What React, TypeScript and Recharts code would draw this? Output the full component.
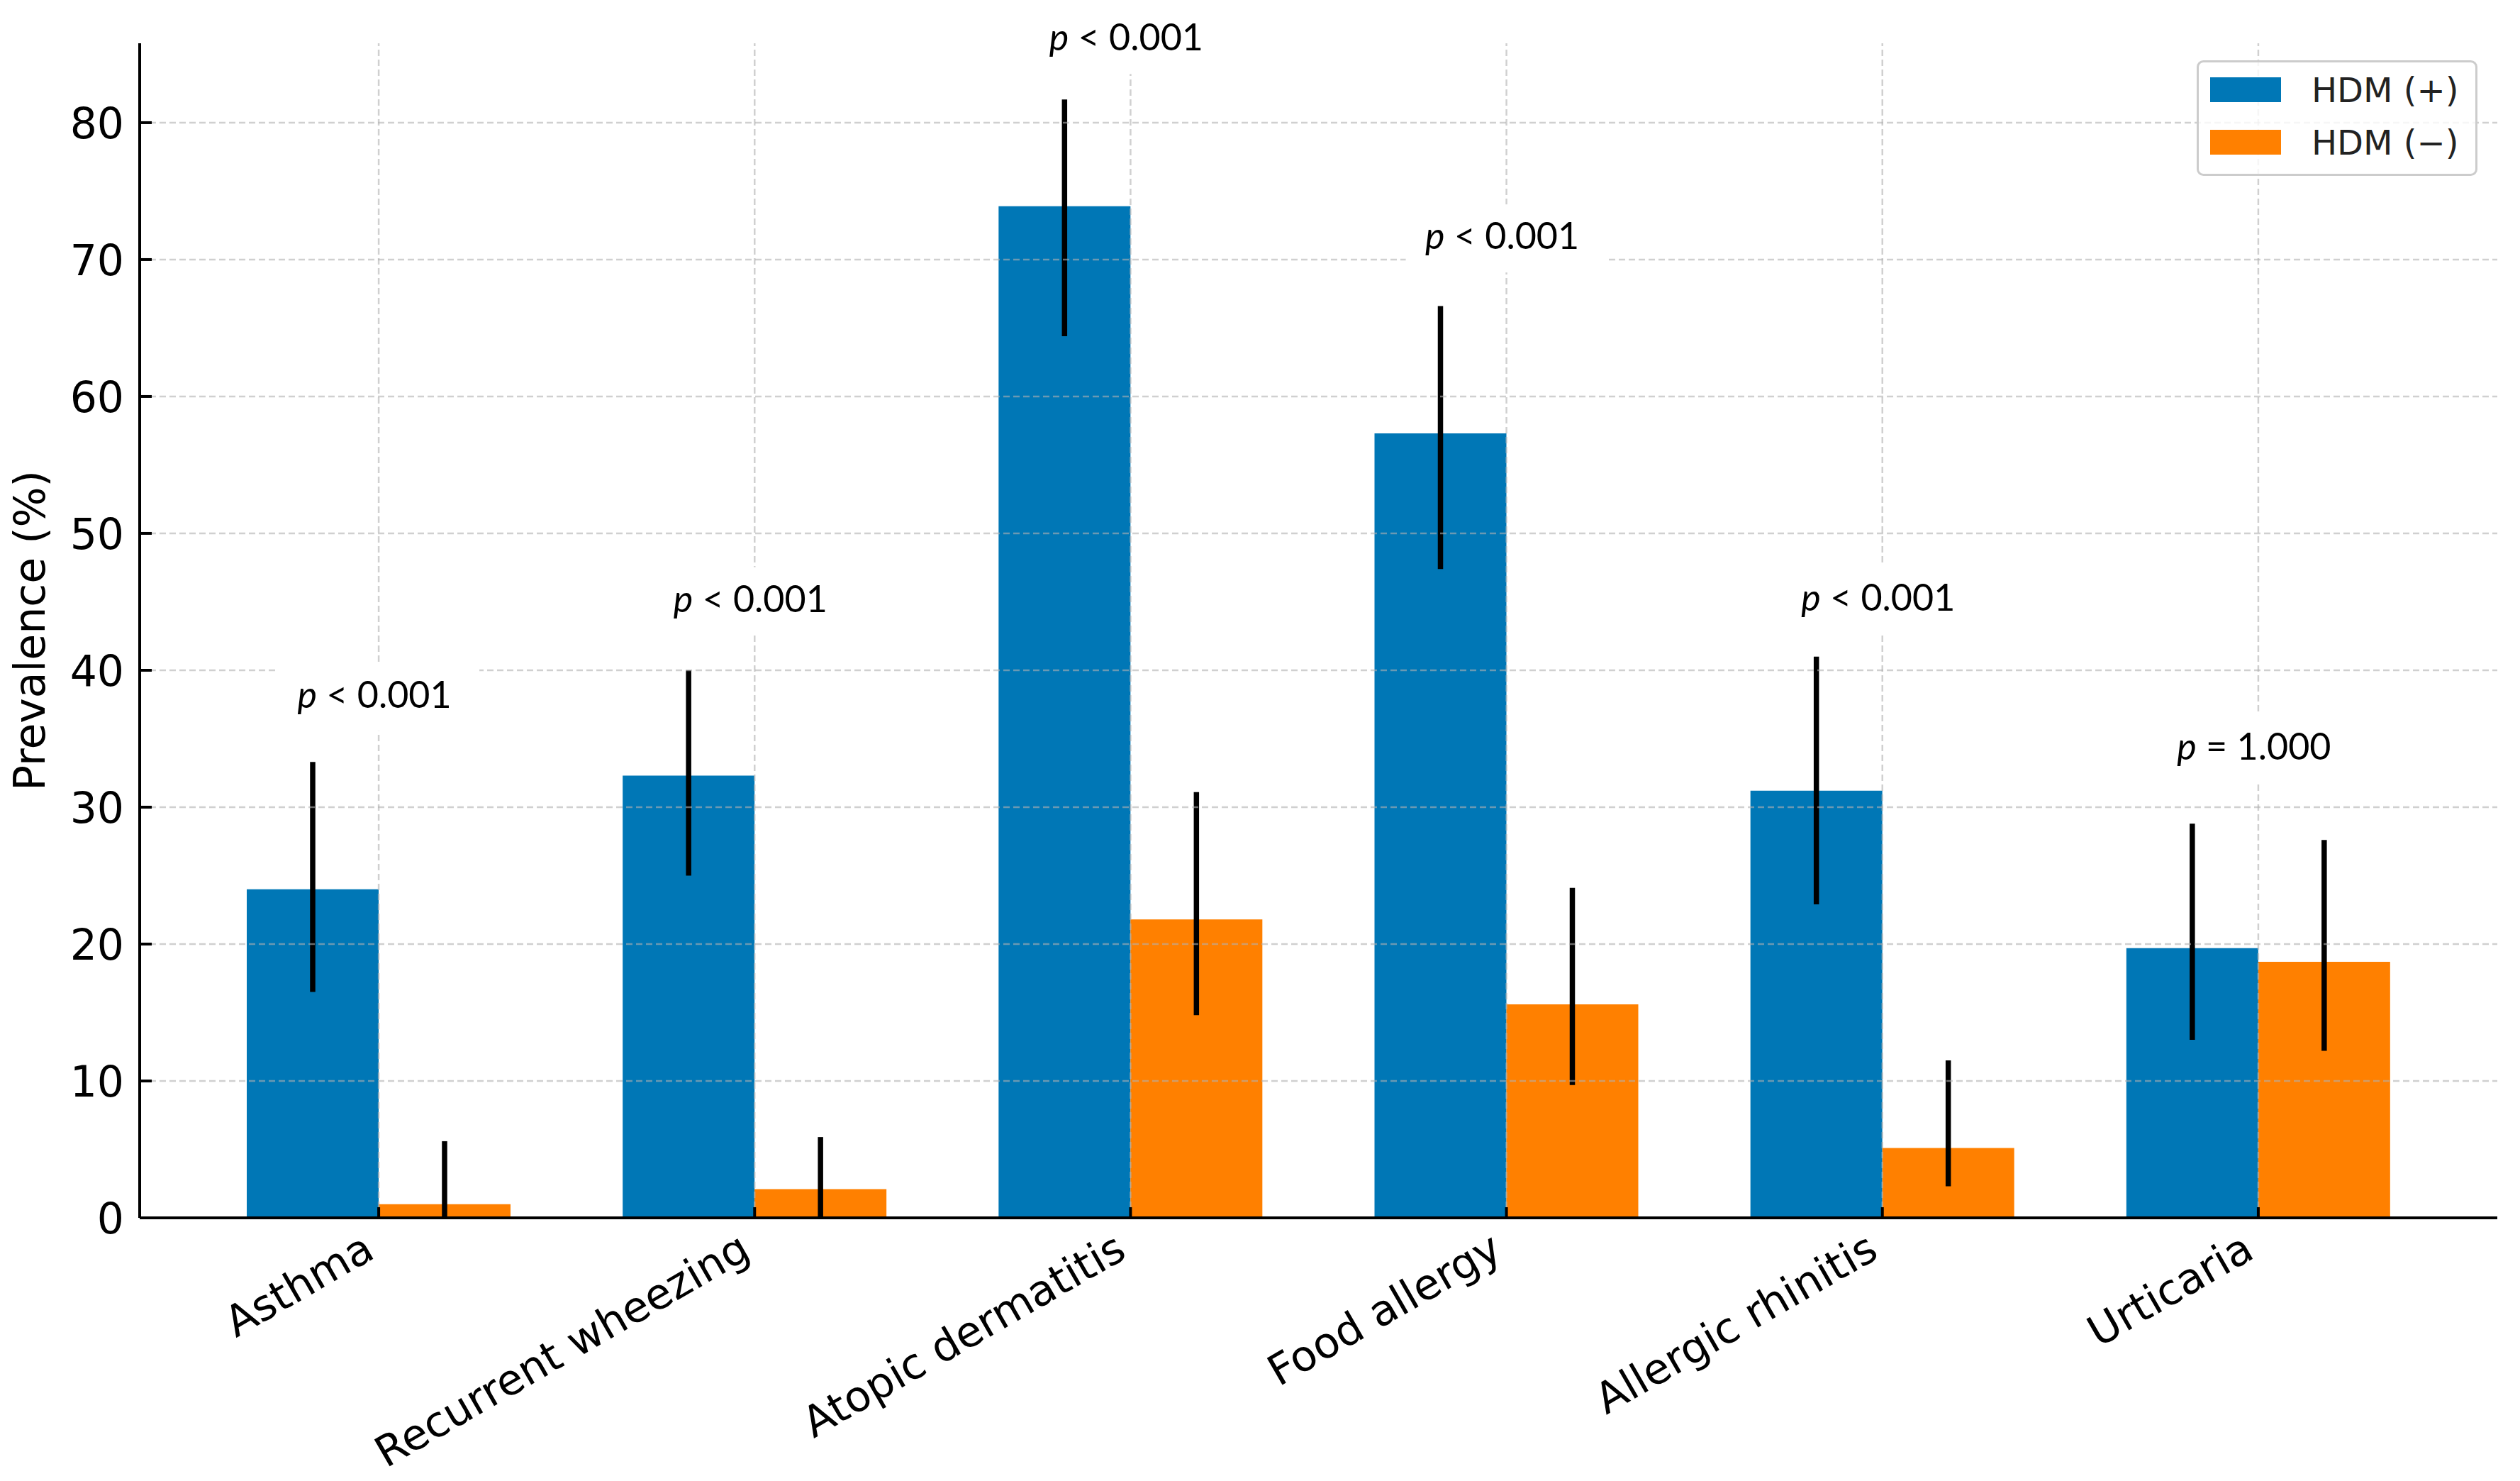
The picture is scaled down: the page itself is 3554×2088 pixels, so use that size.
import React from 'react';
import {
    ComposedChart,
    Bar,
    ErrorBar,
    XAxis,
    YAxis,
    Legend,
    ReferenceLine,
    ReferenceDot,
} from 'recharts';

// values (prevalence, %)
const categories = ['Asthma', 'Recurrent wheezing', 'Atopic dermatitis', 'Food allergy', 'Allergic rhinitis', 'Urticaria'];
const hdmPositive = [24.0, 32.3, 73.9, 57.3, 31.2, 19.7];
const hdmNegative = [1.0, 2.1, 21.8, 15.6, 5.1, 18.7];
const positiveCiLow = [16.5, 25.0, 64.4, 47.4, 22.9, 13.0];
const positiveCiHigh = [33.3, 40.0, 81.7, 66.6, 41.0, 28.8];
const negativeCiLow = [0, 0, 14.8, 9.7, 2.3, 12.2];
const negativeCiHigh = [5.6, 5.9, 31.1, 24.1, 11.5, 27.6];
const pValueText = ['< 0.001', '< 0.001', '< 0.001', '< 0.001', '< 0.001', '= 1.000'];
const pLabelY = [38.2, 45.2, 86.2, 71.7, 45.3, 34.4];
const yTicks = [0, 10, 20, 30, 40, 50, 60, 70, 80];

const BLUE = '#0077b6';
const ORANGE = '#ff8000';
const TICK_FONT = 'DejaVu Sans';

const data = categories.map((name, i) => ({
    name,
    pos: hdmPositive[i],
    neg: hdmNegative[i],
    posErr: [hdmPositive[i] - positiveCiLow[i], positiveCiHigh[i] - hdmPositive[i]],
    negErr: [hdmNegative[i] - negativeCiLow[i], negativeCiHigh[i] - hdmNegative[i]],
}));

// x tick: inward tick mark + label rotated 30deg, right aligned
// eslint-disable-next-line @typescript-eslint/no-explicit-any
const XTick = ({ x, y, payload }: any) => (
    <g>
        <line x1={x} y1={y} x2={x} y2={y - 15} stroke="#000" strokeWidth={4} />
        <text
            x={x - 3}
            y={y + 55}
            transform={`rotate(-30, ${x - 3}, ${y + 55})`}
            textAnchor="end"
            fontFamily={TICK_FONT}
            fontSize={60}
            fill="#000"
        >
            {payload.value}
        </text>
    </g>
);

// eslint-disable-next-line @typescript-eslint/no-explicit-any
const YTick = ({ x, y, payload }: any) => (
    <g>
        <line x1={x} y1={y} x2={x + 17} y2={y} stroke="#000" strokeWidth={4} />
        <text x={x - 22} y={y + 22} textAnchor="end" fontFamily={TICK_FONT} fontSize={60} fill="#000">
            {payload.value}
        </text>
    </g>
);

// eslint-disable-next-line @typescript-eslint/no-explicit-any
const YLabel = ({ viewBox }: any) => {
    const cy = viewBox.y + viewBox.height / 2;
    return (
        <text
            x={63}
            y={cy}
            transform={`rotate(-90, 63, ${cy})`}
            textAnchor="middle"
            fontFamily={TICK_FONT}
            fontSize={60}
            fill="#000"
        >
            Prevalence (%)
        </text>
    );
};

const PLabel = ({ cx, cy, text }: { cx: number; cy: number; text: string }) => (
    <g>
        <rect x={cx - 142} y={cy - 45} width={284} height={96} fill="#fff" />
        <text x={cx - 6} y={cy + 18} textAnchor="middle" fontFamily="Lato" fontSize={52} fill="#000">
            <tspan fontStyle="italic">p</tspan> {text}
        </text>
    </g>
);

// eslint-disable-next-line @typescript-eslint/no-explicit-any
const LegendBox = ({ payload }: any) => (
    <svg width={396} height={163} style={{ display: 'block' }}>
        <rect x={1.5} y={1.5} width={393} height={160} rx={8} fill="#fff" fillOpacity={0.8} stroke="#cccccc" strokeWidth={3} />
        {(payload || []).map((entry: any, i: number) => (
            <g key={entry.value}>
                <rect x={19} y={24 + i * 74} width={100} height={35} fill={entry.color} />
                <text x={162} y={59 + i * 74} fontFamily={TICK_FONT} fontSize={48} fill="#222">
                    {entry.value}
                </text>
            </g>
        ))}
    </svg>
);

const gridStyle = { stroke: '#b0b0b0', strokeOpacity: 0.6, strokeWidth: 2.5, strokeDasharray: '9 5' };

export default function App() {
    return (
        <div style={{ position: 'absolute', left: 0, top: 0, width: 3554, height: 2088, background: '#fff' }}>
            <ComposedChart
                width={3554}
                height={2088}
                data={data}
                margin={{ top: 61, right: 32, bottom: 0, left: 0 }}
                barGap={0}
            >
                <XAxis
                    dataKey="name"
                    height={371}
                    padding={{ left: 72, right: 72 }}
                    interval={0}
                    tickLine={false}
                    tickSize={0}
                    tickMargin={0}
                    axisLine={{ stroke: '#000', strokeWidth: 4 }}
                    tick={<XTick />}
                />
                <YAxis
                    type="number"
                    width={197}
                    domain={[0, 85.8]}
                    ticks={yTicks}
                    interval={0}
                    tickLine={false}
                    tickSize={0}
                    tickMargin={0}
                    axisLine={{ stroke: '#000', strokeWidth: 4 }}
                    tick={<YTick />}
                    label={{ content: <YLabel /> }}
                />

                <Legend
                    layout="vertical"
                    align="center"
                    verticalAlign="middle"
                    content={<LegendBox />}
                    wrapperStyle={{ left: 3098, top: 85, right: 'auto', bottom: 'auto', width: 396, height: 163 }}
                />

                <Bar dataKey="pos" name="HDM (+)" fill={BLUE} barSize={186} isAnimationActive={false}>
                    <ErrorBar dataKey="posErr" width={0} strokeWidth={7.5} stroke="#000" />
                </Bar>
                <Bar dataKey="neg" name="HDM (−)" fill={ORANGE} barSize={186} isAnimationActive={false}>
                    <ErrorBar dataKey="negErr" width={0} strokeWidth={7.5} stroke="#000" />
                </Bar>

                {/* dashed grid drawn over the bars */}
                {yTicks.slice(1).map((v) => (
                    <ReferenceLine key={`h${v}`} y={v} {...gridStyle} />
                ))}
                {categories.map((c) => (
                    <ReferenceLine key={`v${c}`} x={c} {...gridStyle} />
                ))}

                {/* p-value annotations */}
                {categories.map((c, i) => (
                    <ReferenceDot
                        key={`p${c}`}
                        x={c}
                        y={pLabelY[i]}
                        ifOverflow="visible"
                        shape={(props: any) => <PLabel cx={props.cx} cy={props.cy} text={pValueText[i]} />}
                    />
                ))}
            </ComposedChart>
        </div>
    );
}
